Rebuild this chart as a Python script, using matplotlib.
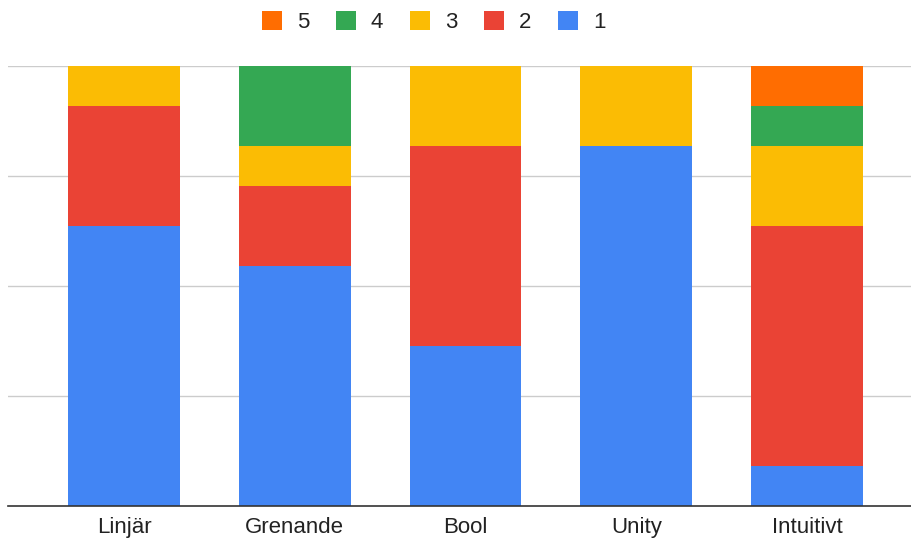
import numpy as np
import matplotlib.pyplot as plt
from matplotlib.patches import Patch

plt.rcParams['font.family'] = ['Liberation Sans', 'DejaVu Sans']

# Answer counts per approach (rating 1..5)
approaches = ['Linjär', 'Grenande', 'Bool', 'Unity', 'Intuitivt']
r1 = [7, 6, 4, 9, 1]
r2 = [3, 2, 5, 0, 6]
r3 = [1, 1, 2, 2, 2]
r4 = [0, 2, 0, 0, 1]
r5 = [0, 0, 0, 0, 1]
ratings = ['1', '2', '3', '4', '5']
colors = ['#4285F4', '#EA4335', '#FBBC04', '#34A853', '#FF6D01']

counts = np.array([r1, r2, r3, r4, r5], dtype=float)
shares = counts / counts.sum(axis=0)

fig = plt.figure(figsize=(9.11, 5.41), dpi=100)
ax = fig.add_axes([8/911, 35/541, 903/911, 440/541])

x = np.arange(len(approaches))
bottom = np.zeros(len(approaches))
for share, col in zip(shares, colors):
    ax.bar(x, share, bottom=bottom, width=0.655, color=col, zorder=2)
    bottom += share

ax.set_xlim(-0.679, 4.609)
ax.set_ylim(0, 1)
ax.set_yticks([0.25, 0.5, 0.75, 1.0])
ax.yaxis.grid(True, color='#cccccc', linewidth=1, zorder=0)
ax.tick_params(axis='y', left=False, labelleft=False)
ax.set_xticks(x)
ax.set_xticklabels(approaches, fontsize=16, color='#222222')
ax.tick_params(axis='x', length=0, pad=8)
for side in ['top', 'right', 'left']:
    ax.spines[side].set_visible(False)
ax.spines['bottom'].set_color('#333333')
ax.spines['bottom'].set_linewidth(1.2)
ax.spines['bottom'].set_zorder(3)

handles = [Patch(facecolor=c, edgecolor='none') for c in colors[::-1]]
fig.legend(handles, ratings[::-1], loc='center', bbox_to_anchor=(0.476, 1 - 22/541),
           ncol=5, frameon=False, fontsize=16, handlelength=0.9, handleheight=0.9,
           handletextpad=0.68, columnspacing=1.2, labelcolor='#222222')

fig.savefig('out.png', dpi=100)
